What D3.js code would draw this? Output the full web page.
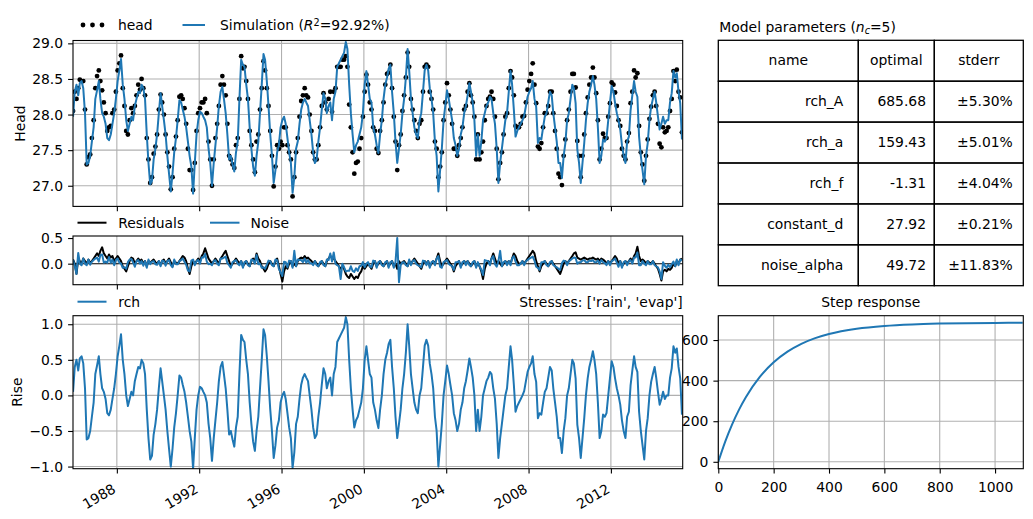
<!DOCTYPE html>
<html>
<head>
<meta charset="utf-8">
<script src="https://cdn.jsdelivr.net/npm/d3@7"></script>
<style>
  body { margin: 0; background: #fff; }
  svg text { font-family: "DejaVu Sans", sans-serif; font-size: 13.9px; fill: #000; }
</style>
</head>
<body>
<svg id="chart" width="1033" height="519"></svg>
<script>
// model parameters (table)
const paramNames = ["rch_A", "rch_a", "rch_f", "constant_d", "noise_alpha"];
const paramOptimal = [685.68, 159.43, -1.31, 27.92, 49.72];
const paramStderr = [5.30, 5.01, 4.04, 0.21, 11.83];
const rSquared = 92.92;
const stressNames = ["rain", "evap"];

// monthly series, first value mid Nov 1985, last mid Jun 2015
const firstMonth = new Date(1985, 10, 15);
const rchValues = [
  0.05, 0.4,
  0.5, 0.35, 0.52, 0.55, 0.45, 0.1, -0.62, -0.6, -0.5, -0.3, -0.1, 0.3,
  0.42, 0.55, 0.3, 0.1, 0.05, -0.05, -0.25, -0.28, -0.2, -0.05, 0.1, 0.3,
  0.55, 0.7, 0.86, 0.5, 0.3, 0.0, -0.15, -0.05, 0.05, 0.0, 0.2, 0.3,
  0.4, 0.38, 0.5, 0.45, 0.3, -0.2, -0.6, -0.9, -0.85, -0.55, -0.4, -0.2,
  0.1, 0.38, 0.2, 0.0, -0.2, -0.5, -0.75, -1.0, -0.75, -0.45, -0.25, 0.0,
  0.28, 0.25, 0.15, 0.05, -0.1, -0.3, -0.5, -0.65, -1.03, -0.6, -0.2, 0.0,
  0.12, 0.1, 0.05, 0.0, -0.1, -0.4, -0.6, -0.92, -0.6, -0.35, -0.1, 0.2,
  0.4, 0.47, 0.3, 0.1, -0.2, -0.55, -0.5, -0.62, -0.72, -0.45, -0.3, 0.3,
  0.85, 0.78, 0.75, 0.5, 0.3, -0.1, -0.4, -0.65, -0.78, -0.5, -0.3, 0.1,
  0.5, 0.93, 0.85, 0.55, 0.2, -0.2, -0.5, -0.88, -0.7, -0.45, -0.35, -0.1,
  0.0, 0.05, -0.05, -0.25, -0.45, -0.6, -1.02, -0.8, -0.4, -0.3, -0.05, 0.15,
  0.25, 0.3, 0.25, 0.2, 0.0, -0.2, -0.45, -0.6, -0.55, -0.3, -0.1, 0.15,
  0.38, 0.3, 0.1, 0.2, 0.25, 0.0, 0.3, 0.4, 0.75, 0.8, 0.85, 0.9,
  0.95, 1.1, 1.0, 0.5, 0.1, -0.2, -0.45, -0.35, -0.3, -0.2, -0.1, 0.1,
  0.5, 0.69, 0.5, 0.3, 0.25, -0.1, -0.2, -0.35, -0.46, -0.2, 0.0, 0.3,
  0.5, 0.6, 0.72, 0.78, 0.4, 0.1, -0.3, -0.6, -0.4, -0.2, 0.1, 0.3,
  0.6, 1.0, 0.7, 0.3, 0.1, -0.1, -0.2, -0.25, 0.0, 0.1, 0.4, 0.7,
  0.78, 0.7, 0.45, 0.3, 0.1, -0.3, -0.5, -1.0, -0.7, -0.4, 0.0, 0.2,
  0.42, 0.3, 0.15, 0.0, -0.25, -0.35, -0.5, -0.4, -0.2, -0.1, 0.1, 0.2,
  0.35, 0.52, 0.4, 0.25, 0.0, -0.5, -0.2, -0.5, -0.3, 0.0, 0.1, 0.2,
  0.25, 0.33, 0.3, 0.1, -0.05, -0.4, -0.88, -0.6, -0.4, -0.2, 0.0, 0.1,
  0.4, 0.69, 0.5, 0.15, -0.23, -0.15, -0.1, -0.05, 0.0, 0.06, 0.2, 0.33,
  0.4, 0.45, 0.55, 0.3, 0.19, -0.32, -0.25, -0.27, -0.1, 0.05, 0.1, 0.25,
  0.4, 0.35, 0.1, -0.1, -0.3, -0.6, -0.6, -0.81, -0.5, -0.32, 0.0, 0.1,
  0.3, 0.5, 0.45, 0.24, -0.41, -0.6, -0.88, -0.6, -0.32, 0.0, 0.24, 0.4,
  0.5, 0.62, 0.5, 0.3, -0.1, -0.6, -0.5, -0.27, -0.3, -0.25, 0.0, 0.24,
  0.48, 0.4, 0.24, 0.1, 0.0, -0.13, -0.35, -0.5, -0.6, -0.3, -0.23, 0.14,
  0.35, 0.55, 0.4, 0.33, -0.23, -0.5, -0.7, -0.9, -0.5, -0.32, 0.0, 0.19,
  0.3, 0.4, 0.25, 0.05, -0.13, -0.05, 0.05, -0.05, 0.0, 0.0, 0.25, 0.38,
  0.69, 0.6, 0.66, 0.4, 0.24, -0.27
];
const headValues = [
  28.05, 28.32,
  28.22, 28.37, 28.49, 28.47, 28.47, 28.07, 27.30, 27.40, 27.44, 27.67, 27.92, 28.37,
  28.54, 28.62, 28.47, 28.34, 28.17, 28.02, 27.77, 27.82, 27.84, 28.02, 28.07, 28.32,
  28.62, 28.72, 28.83, 28.37, 28.12, 27.77, 27.72, 27.92, 28.09, 28.02, 28.12, 28.27,
  28.42, 28.35, 28.50, 28.37, 28.27, 27.67, 27.37, 27.04, 27.12, 27.45, 27.55, 27.72,
  28.07, 28.28, 28.17, 28.00, 27.72, 27.47, 27.27, 26.95, 27.12, 27.52, 27.69, 27.92,
  28.25, 28.27, 28.22, 28.09, 27.87, 27.52, 27.22, 27.22, 26.94, 27.32, 27.77, 28.02,
  28.09, 28.17, 28.17, 28.22, 28.02, 27.62, 27.37, 27.00, 27.37, 27.67, 27.87, 28.12,
  28.42, 28.54, 28.42, 28.27, 27.87, 27.42, 27.37, 27.30, 27.25, 27.57, 27.67, 28.22,
  28.82, 28.65, 28.67, 28.47, 28.22, 27.77, 27.57, 27.37, 27.19, 27.62, 27.72, 28.07,
  28.37, 28.75, 28.62, 28.37, 28.12, 27.77, 27.42, 26.99, 27.27, 27.57, 27.52, 27.62,
  27.57, 27.82, 27.82, 27.57, 27.47, 27.37, 26.85, 27.12, 27.47, 27.67, 27.97, 28.19,
  28.27, 28.37, 28.27, 28.24, 28.00, 27.77, 27.47, 27.37, 27.37, 27.57, 27.82, 28.12,
  28.30, 28.17, 28.07, 28.22, 28.32, 28.04, 28.32, 28.37, 28.67, 28.67, 28.67, 28.77,
  28.77, 28.82, 28.67, 28.14, 27.82, 27.47, 27.17, 27.32, 27.34, 27.52, 27.67, 27.97,
  28.32, 28.56, 28.42, 28.17, 28.07, 27.82, 27.77, 27.52, 27.46, 27.77, 27.92, 28.17,
  28.42, 28.57, 28.59, 28.70, 28.37, 27.97, 27.62, 27.22, 27.57, 27.72, 28.05, 28.27,
  28.52, 28.87, 28.67, 28.22, 28.07, 27.92, 27.77, 27.67, 27.87, 27.92, 28.32, 28.67,
  28.70, 28.67, 28.32, 28.22, 28.07, 27.62, 27.52, 27.12, 27.27, 27.47, 27.92, 28.17,
  28.44, 28.27, 28.07, 27.87, 27.52, 27.52, 27.42, 27.57, 27.67, 27.82, 28.07, 28.12,
  28.32, 28.44, 28.27, 28.17, 27.97, 27.37, 27.72, 27.37, 27.47, 27.62, 27.92, 28.12,
  28.22, 28.25, 28.32, 28.22, 27.97, 27.52, 27.09, 27.32, 27.47, 27.72, 27.97, 28.02,
  28.37, 28.61, 28.52, 28.27, 27.84, 27.82, 27.82, 27.87, 27.97, 27.98, 28.17, 28.35,
  28.47, 28.57, 28.72, 28.42, 28.16, 27.55, 27.52, 27.60, 27.82, 28.02, 28.02, 28.12,
  28.32, 28.32, 28.02, 27.77, 27.52, 27.17, 27.12, 27.01, 27.42, 27.65, 27.92, 28.07,
  28.32, 28.57, 28.57, 28.38, 27.63, 27.42, 27.12, 27.42, 27.72, 28.02, 28.24, 28.42,
  28.52, 28.66, 28.52, 28.30, 27.92, 27.37, 27.52, 27.73, 27.67, 27.67, 27.97, 28.16,
  28.45, 28.42, 28.31, 28.12, 27.92, 27.84, 27.52, 27.42, 27.37, 27.62, 27.74, 28.16,
  28.32, 28.62, 28.52, 28.58, 27.84, 27.47, 27.30, 27.07, 27.42, 27.65, 27.94, 28.11,
  28.27, 28.32, 28.12, 27.87, 27.59, 27.54, 27.82, 27.75, 27.77, 27.82, 28.05, 28.22,
  28.61, 28.47, 28.63, 28.32, 28.24, 27.75
];
const noiseValues = [
  0.08, -0.04,
  -0.2, 0.21, 0.0, -0.03, 0.1, 0.0, -0.03, 0.08, -0.02, 0.04, 0.07, 0.1,
  0.12, 0.04, 0.17, 0.18, 0.02, 0.04, 0.02, 0.13, 0.02, 0.08, -0.03, 0.07,
  0.1, 0.02, 0.0, -0.08, -0.07, -0.1, 0.03, 0.08, 0.09, 0.03, -0.06, 0.05,
  0.07, 0.0, 0.05, -0.04, 0.05, -0.08, 0.08, -0.01, 0.04, 0.05, -0.01, -0.02,
  0.05, -0.05, 0.06, 0.05, -0.04, 0.05, 0.07, -0.03, -0.07, 0.08, -0.01, -0.01,
  0.05, 0.07, 0.1, 0.04, -0.02, -0.13, -0.15, 0.06, 0.08, -0.03, 0.05, 0.07,
  0.0, 0.12, 0.12, 0.19, 0.04, -0.01, 0.0, -0.03, 0.05, 0.07, 0.0, -0.03,
  0.1, 0.1, 0.12, 0.14, 0.01, -0.03, -0.08, 0.03, 0.05, 0.07, 0.0, -0.03,
  0.05, -0.08, 0.03, 0.05, -0.03, -0.05, 0.08, 0.07, 0.0, 0.17, -0.01, 0.0,
  -0.08, -0.07, -0.1, -0.02, 0.06, 0.05, -0.03, -0.05, 0.08, 0.07, -0.1, -0.17,
  -0.24, 0.04, 0.03, -0.07, 0.06, 0.05, -0.08, 0.25, -0.05, 0.08, 0.07, 0.07,
  0.03, 0.1, 0.02, 0.07, 0.01, 0.01, -0.03, 0.05, -0.03, -0.05, 0.03, 0.05,
  -0.03, -0.05, 0.08, 0.07, 0.2, 0.04, 0.22, 0.0, -0.03, -0.05, -0.3, 0.0,
  -0.07, -0.15, -0.14, -0.14, -0.05, -0.14, -0.16, -0.09, -0.14, -0.05, -0.04, 0.03,
  -0.07, 0.0, 0.03, -0.05, -0.07, 0.06, 0.05, -0.08, 0.03, 0.05, -0.03, -0.05,
  0.03, 0.05, -0.08, 0.03, 0.05, -0.08, 0.03, 0.5, -0.36, -0.03, 0.03, 0.03,
  -0.03, -0.05, 0.08, -0.03, 0.05, 0.07, 0.0, -0.03, -0.05, -0.07, 0.06, 0.05,
  -0.03, 0.05, -0.08, 0.03, 0.05, -0.03, 0.1, 0.15, -0.06, -0.08, 0.03, 0.05,
  0.07, 0.0, -0.03, -0.05, -0.12, 0.03, 0.03, 0.05, -0.08, 0.03, 0.05, -0.03,
  0.05, -0.03, -0.05, 0.03, 0.05, -0.08, 0.03, -0.05, -0.12, -0.22, 0.07, 0.06,
  0.05, -0.03, 0.1, 0.15, -0.01, -0.06, 0.05, 0.25, -0.05, 0.03, 0.05, -0.03,
  0.05, -0.03, 0.1, 0.15, 0.04, -0.03, -0.03, 0.0, 0.05, -0.03, 0.05, 0.07,
  0.1, 0.12, 0.14, 0.06, -0.06, -0.08, -0.12, 0.03, 0.03, 0.05, -0.03, -0.05,
  0.03, 0.05, -0.03, -0.05, -0.07, -0.1, -0.12, 0.01, 0.06, 0.05, -0.03, 0.05,
  0.07, 0.1, 0.12, 0.11, 0.0, 0.03, 0.03, 0.06, 0.07, 0.03, 0.03, 0.06,
  0.05, 0.07, 0.03, 0.03, 0.06, 0.0, 0.07, 0.03, 0.01, -0.03, 0.05, -0.03,
  0.05, 0.07, 0.1, 0.02, -0.06, 0.05, -0.08, 0.03, 0.05, -0.03, 0.05, 0.07,
  0.0, 0.12, 0.12, 0.22, -0.03, -0.03, 0.05, 0.0, -0.03, 0.05, -0.01, -0.01,
  0.05, -0.03, -0.05, -0.07, -0.15, -0.3, 0.03, -0.04, -0.08, -0.02, -0.07, -0.01,
  0.04, -0.05, 0.08, -0.03, 0.08, 0.06
];

// step response (days, rise)
const stepTimes = [0, 25, 50, 75, 100, 150, 200, 250, 300, 350, 400, 500, 600, 700, 800, 900, 1000, 1100];
const stepValues = [0, 99.5, 184.6, 257.3, 319.4, 418.1, 490.1, 542.7, 581.2, 609.4, 629.9, 655.9, 669.8, 677.2, 681.1, 683.3, 684.4, 685.0];

// tick values
const headTicks = [27.0, 27.5, 28.0, 28.5, 29.0];
const resTicks = [0.0, 0.5];
const rchTicks = [-1.0, -0.5, 0.0, 0.5, 1.0];
const stepXTicks = [0, 200, 400, 600, 800, 1000];
const stepYTicks = [0, 200, 400, 600];

// ---------------------------------------------------------------
const svg = d3.select("#chart");
const blue = "#1f77b4";
const gridColor = "#b0b0b0";
const lw = 2;      // series line width
const thin = 1.1;  // spines, grid, ticks
const tickLen = 4.9;

const L = 73, R = 682.7;
const headBox = [40.5, 206.4], resBox = [236, 284.7], rchBox = [315.7, 468.7];
const stepBox = { left: 718.3, right: 1023.3, top: 315.7, bottom: 468.7 };

const n = Math.min(rchValues.length, headValues.length, noiseValues.length);
const months = d3.range(n).map((i) => d3.timeMonth.offset(firstMonth, i));
const constantD = paramOptimal[3];
const simulation = rchValues.slice(0, n).map((v) => constantD + v);
const residuals = headValues.slice(0, n).map((h, i) => h - simulation[i]);

// scales
const x = d3.scaleTime().domain([new Date(1985, 10, 14), new Date(2015, 5, 28)]).range([L, R]);
const yHead = d3.scaleLinear().domain([26.71, 29.04]).range([headBox[1], headBox[0]]);
const yRes = d3.scaleLinear().domain([-0.41, 0.54]).range([resBox[1], resBox[0]]);
const yRch = d3.scaleLinear().domain([-1.03, 1.12]).range([rchBox[1], rchBox[0]]);
const xStep = d3.scaleLinear().domain([0, 1102]).range([stepBox.left, stepBox.right]);
const yStep = d3.scaleLinear().domain([-34, 720]).range([stepBox.bottom, stepBox.top]);

const yearTicks = x.ticks(d3.timeYear.every(4));

const defs = svg.append("defs");
function clip(id, x0, y0, x1, y1) {
  defs.append("clipPath").attr("id", id).append("rect")
    .attr("x", x0).attr("y", y0).attr("width", x1 - x0).attr("height", y1 - y0);
  return `url(#${id})`;
}

function hGrid(scale, values, x0, x1) {
  svg.append("g").selectAll("line").data(values).join("line")
    .attr("x1", x0).attr("x2", x1)
    .attr("y1", (d) => scale(d)).attr("y2", (d) => scale(d))
    .attr("stroke", gridColor).attr("stroke-width", thin);
}
function vGrid(scale, values, y0, y1) {
  svg.append("g").selectAll("line").data(values).join("line")
    .attr("y1", y0).attr("y2", y1)
    .attr("x1", (d) => scale(d)).attr("x2", (d) => scale(d))
    .attr("stroke", gridColor).attr("stroke-width", thin);
}
function frame(x0, y0, x1, y1) {
  svg.append("rect").attr("x", x0).attr("y", y0)
    .attr("width", x1 - x0).attr("height", y1 - y0)
    .attr("fill", "none").attr("stroke", "#000").attr("stroke-width", thin);
}
function styleAxis(g) {
  g.select(".domain").remove();
  g.attr("font-size", null).attr("font-family", null);
  g.selectAll("line").attr("stroke-width", thin);
}
function yAxis(scale, xPos, values, fmt) {
  const g = svg.append("g").attr("transform", `translate(${xPos},0)`)
    .call(d3.axisLeft(scale).tickValues(values).tickFormat(fmt).tickSize(tickLen).tickPadding(5));
  styleAxis(g);
  return g;
}
function xTimeAxis(yPos, labels) {
  const g = svg.append("g").attr("transform", `translate(0,${yPos})`)
    .call(d3.axisBottom(x).tickValues(yearTicks).tickSize(tickLen)
      .tickFormat(labels ? d3.timeFormat("%Y") : ""));
  styleAxis(g);
  if (labels) {
    g.selectAll("text")
      .attr("text-anchor", "end")
      .attr("y", 0).attr("dy", "0.71em")
      .attr("transform", "translate(-5.5,14.5) rotate(-30)");
  }
  return g;
}

// ---------- head panel
hGrid(yHead, headTicks, L, R);
vGrid(x, yearTicks, headBox[0], headBox[1]);
const headClip = clip("clipHead", L, headBox[0], R, headBox[1]);
svg.append("g").attr("clip-path", headClip)
  .selectAll("circle").data(headValues.slice(0, n)).join("circle")
  .attr("cx", (d, i) => x(months[i]))
  .attr("cy", (d) => yHead(d))
  .attr("r", 2.4).attr("fill", "#000");
svg.append("path").attr("clip-path", headClip)
  .datum(simulation)
  .attr("fill", "none").attr("stroke", blue).attr("stroke-width", lw)
  .attr("stroke-linejoin", "round")
  .attr("d", d3.line().x((d, i) => x(months[i])).y((d) => yHead(d)));
yAxis(yHead, L, headTicks, d3.format(".1f"));
xTimeAxis(headBox[1], false);
frame(L, headBox[0], R, headBox[1]);

// legend head
svg.append("g").selectAll("circle").data([83, 92.5, 102]).join("circle")
  .attr("cx", (d) => d).attr("cy", 25).attr("r", 2.4).attr("fill", "#000");
svg.append("text").attr("x", 118).attr("y", 30.3).text("head");
svg.append("line").attr("x1", 182.5).attr("x2", 205).attr("y1", 25).attr("y2", 25)
  .attr("stroke", blue).attr("stroke-width", lw);
const simLabel = svg.append("text").attr("x", 220).attr("y", 30.3);
simLabel.append("tspan").text("Simulation (");
simLabel.append("tspan").attr("font-style", "italic").text("R");
simLabel.append("tspan").attr("font-size", "9.7px").attr("dy", -4.5).text("2");
simLabel.append("tspan").attr("dy", 4.5).text(`=${rSquared.toFixed(2)}%)`);

svg.append("text").attr("transform", "translate(25.3,123.5) rotate(-90)")
  .attr("text-anchor", "middle").text("Head");

// ---------- residual panel
vGrid(x, yearTicks, resBox[0], resBox[1]);
const resClip = clip("clipRes", L, resBox[0], R, resBox[1]);
svg.append("line").attr("x1", L).attr("x2", R)
  .attr("y1", yRes(0)).attr("y2", yRes(0))
  .attr("stroke", "#000").attr("stroke-width", thin);
svg.append("path").attr("clip-path", resClip)
  .datum(residuals)
  .attr("fill", "none").attr("stroke", "#000").attr("stroke-width", lw)
  .attr("stroke-linejoin", "round")
  .attr("d", d3.line().x((d, i) => x(months[i])).y((d) => yRes(d)));
svg.append("path").attr("clip-path", resClip)
  .datum(noiseValues.slice(0, n))
  .attr("fill", "none").attr("stroke", blue).attr("stroke-width", lw)
  .attr("stroke-linejoin", "round")
  .attr("d", d3.line().x((d, i) => x(months[i])).y((d) => yRes(d)));
yAxis(yRes, L, resTicks, d3.format(".1f"));
xTimeAxis(resBox[1], false);
frame(L, resBox[0], R, resBox[1]);

svg.append("line").attr("x1", 77.5).attr("x2", 106.5).attr("y1", 222.7).attr("y2", 222.7)
  .attr("stroke", "#000").attr("stroke-width", lw);
svg.append("text").attr("x", 118.3).attr("y", 228).text("Residuals");
svg.append("line").attr("x1", 210).attr("x2", 239.5).attr("y1", 222.7).attr("y2", 222.7)
  .attr("stroke", blue).attr("stroke-width", lw);
svg.append("text").attr("x", 250.5).attr("y", 228).text("Noise");

// ---------- recharge contribution panel
hGrid(yRch, rchTicks, L, R);
vGrid(x, yearTicks, rchBox[0], rchBox[1]);
const rchClip = clip("clipRch", L, rchBox[0], R, rchBox[1]);
svg.append("path").attr("clip-path", rchClip)
  .datum(rchValues.slice(0, n))
  .attr("fill", "none").attr("stroke", blue).attr("stroke-width", lw)
  .attr("stroke-linejoin", "round")
  .attr("d", d3.line().x((d, i) => x(months[i])).y((d) => yRch(d)));
yAxis(yRch, L, rchTicks, d3.format(".1f"));
xTimeAxis(rchBox[1], true);
frame(L, rchBox[0], R, rchBox[1]);

svg.append("line").attr("x1", 77.5).attr("x2", 106.5).attr("y1", 301.7).attr("y2", 301.7)
  .attr("stroke", blue).attr("stroke-width", lw);
svg.append("text").attr("x", 118.3).attr("y", 307.3).text("rch");
svg.append("text").attr("x", R).attr("y", 306.6).attr("text-anchor", "end")
  .text(`Stresses: [${stressNames.map((s) => `'${s}'`).join(", ")}]`);
svg.append("text").attr("transform", "translate(21.7,392.2) rotate(-90)")
  .attr("text-anchor", "middle").text("Rise");

// ---------- parameter table
const colEdges = [718.3, 858.3, 934.3, 1023.3];
const rowTop = 40.3, rowH = 40.9;
const pads = [15, 8.3, 10.5];
const tableRows = [["name", "optimal", "stderr"]].concat(
  paramNames.map((p, i) => [p, paramOptimal[i].toFixed(2), "±" + paramStderr[i].toFixed(2) + "%"])
);
const table = svg.append("g");
tableRows.forEach((row, r) => {
  row.forEach((cell, c) => {
    const y0 = rowTop + r * rowH;
    table.append("rect")
      .attr("x", colEdges[c]).attr("y", y0)
      .attr("width", colEdges[c + 1] - colEdges[c]).attr("height", rowH)
      .attr("fill", "none").attr("stroke", "#000").attr("stroke-width", 1.3);
    const header = r === 0;
    table.append("text")
      .attr("x", header ? (colEdges[c] + colEdges[c + 1]) / 2 : colEdges[c + 1] - pads[c])
      .attr("y", y0 + rowH / 2 + 4.5)
      .attr("text-anchor", header ? "middle" : "end")
      .text(cell);
  });
});
const title = svg.append("text").attr("x", 719.3).attr("y", 31.5);
title.append("tspan").text("Model parameters (");
title.append("tspan").attr("font-style", "italic").text("n");
title.append("tspan").attr("font-style", "italic").attr("font-size", "9.7px").attr("dy", 2.5).text("c");
title.append("tspan").attr("dy", -2.5).text(`=${paramNames.length})`);

// ---------- step response
hGrid(yStep, stepYTicks, stepBox.left, stepBox.right);
vGrid(xStep, stepXTicks, stepBox.top, stepBox.bottom);
const stepClip = clip("clipStep", stepBox.left, stepBox.top, stepBox.right, stepBox.bottom);
svg.append("path").attr("clip-path", stepClip)
  .datum(stepTimes.map((t, i) => [t, stepValues[i]]))
  .attr("fill", "none").attr("stroke", blue).attr("stroke-width", lw)
  .attr("d", d3.line().curve(d3.curveMonotoneX).x((d) => xStep(d[0])).y((d) => yStep(d[1])));
yAxis(yStep, stepBox.left, stepYTicks, d3.format("d"));
const sx = svg.append("g").attr("transform", `translate(0,${stepBox.bottom})`)
  .call(d3.axisBottom(xStep).tickValues(stepXTicks).tickSize(tickLen).tickPadding(8.5).tickFormat(d3.format("d")));
styleAxis(sx);
frame(stepBox.left, stepBox.top, stepBox.right, stepBox.bottom);
svg.append("text").attr("x", (stepBox.left + stepBox.right) / 2).attr("y", 306.6)
  .attr("text-anchor", "middle").text("Step response");
</script>
</body>
</html>
